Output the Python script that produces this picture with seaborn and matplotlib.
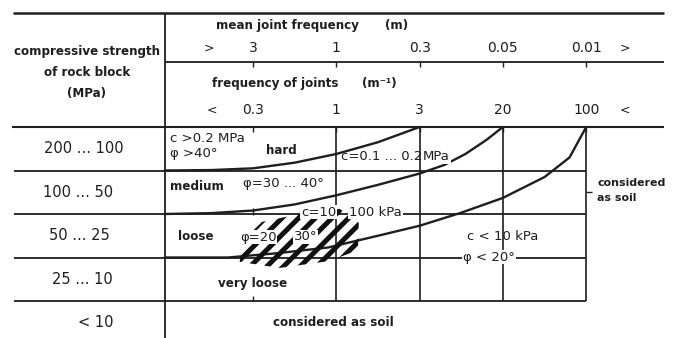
import matplotlib
matplotlib.use('Agg')
import matplotlib.pyplot as plt
import seaborn as sns
import pandas as pd
from matplotlib.patches import Polygon

# ---------------- data ----------------
spacing_labels = ['3', '1', '0.3', '0.05', '0.01']      # mean joint spacing (m)
frequency_labels = ['0.3', '1', '3', '20', '100']       # frequency of joints (m^-1)
strength_labels = ['200 ... 100', '100 ... 50', '50 ... 25', '25 ... 10', '< 10']

# boundary curves: x = column index (0 -> 0.3 m^-1 ... 4 -> 100 m^-1),
# y = row boundary index (0 = top of "200...100" row)
hard_x = [-1.06, -0.5, 0.0, 0.5, 1.0, 1.5, 2.0]
hard_y = [1.0, 0.99, 0.95, 0.82, 0.62, 0.35, 0.0]
medium_x = [-1.06, -0.5, 0.0, 0.5, 1.0, 1.5, 2.0, 2.3, 2.55, 2.8, 3.0]
medium_y = [2.0, 1.98, 1.92, 1.78, 1.57, 1.33, 1.07, 0.87, 0.62, 0.3, 0.0]
loose_x = [-1.06, -0.3, 0.3, 0.9, 1.5, 2.0, 2.5, 3.0, 3.5, 3.8, 4.0]
loose_y = [3.0, 3.0, 2.9, 2.77, 2.5, 2.27, 1.97, 1.63, 1.15, 0.7, 0.0]

# hatched transition zone outline
blob_x = [-0.16, -0.12, 0.11, 0.56, 1.04, 1.27, 1.26, 0.92, 0.32]
blob_y = [3.10, 2.60, 2.18, 2.00, 1.88, 2.20, 2.83, 3.08, 3.24]

# ---------------- layout helpers (pixel -> diagram units) ----------------
X0, DX = 253.0, 83.3
Y0, DY = 127.0, 43.5
def ux(px):
    return (px - X0) / DX
def uy(py):
    return (py - Y0) / DY

sns.set_theme(style='white')
plt.rcParams['hatch.linewidth'] = 3.6
INK = '#1e1e1e'
NARROW = ['DejaVu Sans']
BOLD = ['DejaVu Sans']
BSZ = 8.6   # bold label size

fig = plt.figure(figsize=(6.76, 3.38), dpi=100)
ax = fig.add_axes([0, 0, 1, 1])
fig.patch.set_facecolor('white')

# ---------------- boundary curves ----------------
curves = pd.concat([
    pd.DataFrame({'x': hard_x, 'y': hard_y, 'curve': 'hard'}),
    pd.DataFrame({'x': medium_x, 'y': medium_y, 'curve': 'medium'}),
    pd.DataFrame({'x': loose_x, 'y': loose_y, 'curve': 'loose'}),
])
sns.lineplot(data=curves, x='x', y='y', units='curve', estimator=None, sort=False,
             color=INK, lw=1.7, ax=ax, legend=False)

# ---------------- frame lines ----------------
ax.hlines(uy(13), ux(13), ux(664), color=INK, lw=1.8)
ax.hlines(uy(62), ux(165), ux(664), color=INK, lw=1.3)
ax.hlines(0, ux(12), ux(664), color=INK, lw=1.5)
ax.hlines([1, 2, 3, 4], ux(14), 4, color=INK, lw=1.3)
ax.vlines(ux(165), uy(13), uy(338), color=INK, lw=1.3)
ax.vlines([1, 2, 3, 4], 0, 4, color=INK, lw=1.2)
# small ticks
for c in range(5):
    ax.vlines(c, uy(62), uy(67), color=INK, lw=1.0)
    ax.vlines(c, uy(127), uy(132), color=INK, lw=1.0)
ax.vlines(0, uy(208), uy(215), color=INK, lw=1.0)
ax.vlines(0, uy(296), uy(301), color=INK, lw=1.0)
ax.hlines(uy(192), 4, ux(592), color=INK, lw=1.0)

# hatched zone
blob = Polygon(list(zip(blob_x, blob_y)), closed=True, facecolor='none',
               edgecolor='#111111', lw=0, hatch='//', zorder=3)
ax.add_patch(blob)

ax.set_xlim(ux(0), ux(676))
ax.set_ylim(uy(338), uy(0))
ax.axis('off')

# ---------------- text ----------------
def t(px, py, s, size=9, bold=False, ha='left', white=False, z=5):
    kw = dict(ha=ha, va='center', color=INK, fontsize=size, zorder=z,
              family=BOLD if bold else NARROW,
              fontweight='bold' if bold else 'normal')
    if white:
        kw['bbox'] = dict(facecolor='white', edgecolor='none', pad=0.6)
    ax.text(ux(px), uy(py), s, **kw)

# left header
t(87, 51, 'compressive strength', BSZ, True, 'center')
t(87, 72, 'of rock block', BSZ, True, 'center')
t(87, 93, '(MPa)', BSZ, True, 'center')

# top headers
t(216, 25, 'mean joint frequency', BSZ, True)
t(385, 25, '(m)', BSZ, True)
t(204, 48, '>', 9)
for c, lab in enumerate(spacing_labels):
    ax.text(c, uy(48), lab, ha='center', va='center', color=INK, fontsize=10,
            family=NARROW)
t(620, 48, '>', 9)
t(212, 84, 'frequency of joints', BSZ, True)
t(362, 84, '(m⁻¹)', BSZ, True)
t(207, 110, '<', 9)
for c, lab in enumerate(frequency_labels):
    ax.text(c, uy(110), lab, ha='center', va='center', color=INK, fontsize=10,
            family=NARROW)
t(620, 110, '<', 9)

# row labels
row_label_px = [84, 78, 79, 82, 96]
for r, lab in enumerate(strength_labels):
    ax.text(ux(row_label_px[r]), r + 0.5, lab, ha='center', va='center', color=INK,
            fontsize=10.5, family=NARROW)

# region annotations
t(170, 139, 'c >0.2 MPa', 9.5)
t(170, 153, 'φ >40°', 9.5)
t(266, 150, 'hard', BSZ, True)
t(341, 157, 'c=0.1 ... 0.2', 9.5)
t(423, 157, 'MPa', 9.5, white=True)
t(170, 187, 'medium', BSZ, True)
t(243, 184, 'φ=30 ... 40°', 9.5)
t(301, 212, 'c=10', 9.5, white=True, z=6)
t(349, 212, '100 kPa', 9.5, white=True)
t(178, 237, 'loose', BSZ, True)
t(240, 237, 'φ=20', 9.5, white=True, z=6)
t(294, 237, '30°', 9.5, white=True, z=6)
t(467, 236, 'c < 10 kPa', 9.5)
t(489, 257, 'φ < 20°', 9.5, ha='center', white=True)
t(218, 283, 'very loose', BSZ, True)
t(597, 183, 'considered', 7.9, True)
t(597, 198, 'as soil', 7.9, True)
t(333, 322, 'considered as soil', BSZ, True, 'center')

fig.savefig('out.png', dpi=100, facecolor='white')
